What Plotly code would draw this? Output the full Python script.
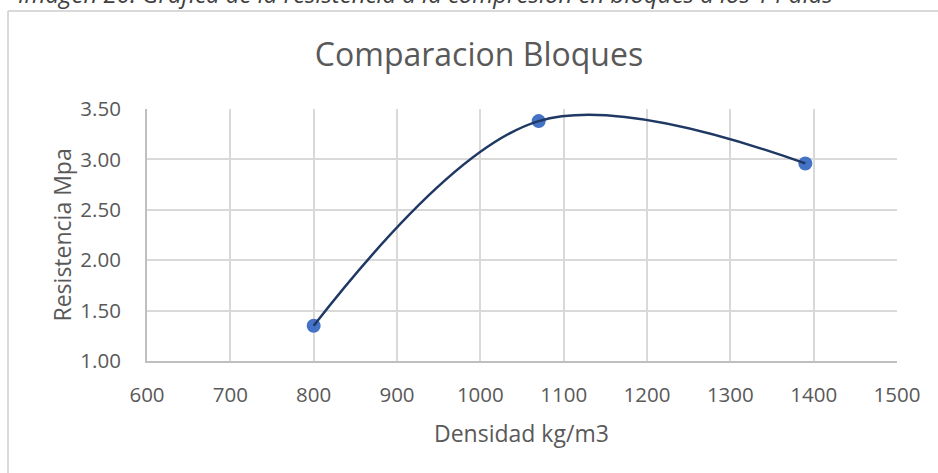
import plotly.graph_objects as go

# Data
densidad = [800, 1070, 1390]
resistencia = [1.35, 3.38, 2.96]
x_ticks = [600, 700, 800, 900, 1000, 1100, 1200, 1300, 1400, 1500]
y_ticks = [1.00, 1.50, 2.00, 2.50, 3.00, 3.50]

title_text = "Comparacion Bloques"
x_title = "Densidad kg/m3"
y_title = "Resistencia Mpa"
caption = "Imagen 20. Gráfica de la resistencia a la compresión en bloques a los 14 días"

W, H = 938, 473
L, R, T, B = 147, 897, 109, 361  # plot area pixel edges

def px(xp):
    return (xp - L) / (R - L)

def py(yp):
    return (B - yp) / (B - T)

FONT = "Open Sans"
GRAY = "#595959"
GRID = "#d9d9d9"

fig = go.Figure()
fig.add_trace(go.Scatter(
    x=densidad, y=resistencia, mode="markers",
    marker=dict(color="#4472C4", size=14, line=dict(width=0)),
    showlegend=False, hoverinfo="skip",
))
fig.add_trace(go.Scatter(
    x=densidad, y=resistencia, mode="lines",
    line=dict(color="#1F3864", width=2.5, shape="spline", smoothing=1.0),
    showlegend=False,
))

fig.update_layout(
    width=W, height=H,
    margin=dict(l=L, r=W - R, t=T, b=H - B, pad=0),
    paper_bgcolor="white", plot_bgcolor="white",
    font=dict(family=FONT, color=GRAY, size=20),
    title=dict(text=title_text, x=479 / W, xref="container", xanchor="center",
               y=1 - 55 / H, yref="container", yanchor="middle",
               font=dict(family=FONT, size=32, color=GRAY)),
    xaxis=dict(range=[600, 1500], tickvals=x_ticks, ticktext=[str(v) for v in x_ticks],
               showgrid=True, gridcolor=GRID, gridwidth=2,
               showline=True, linecolor="#bfbfbf", linewidth=2, mirror=False,
               zeroline=False, ticks="", ticklabelstandoff=14,
               tickfont=dict(family=FONT, size=20.5, color=GRAY), fixedrange=True),
    yaxis=dict(range=[1.0, 3.5], tickvals=y_ticks, ticktext=[f"{v:.2f}" for v in y_ticks],
               showgrid=True, gridcolor=GRID, gridwidth=2,
               showline=True, linecolor="#bfbfbf", linewidth=2,
               zeroline=False, ticks="", ticklabelstandoff=20,
               tickfont=dict(family=FONT, size=20.5, color=GRAY), fixedrange=True),
    shapes=[
        dict(type="line", xref="paper", yref="paper", x0=px(8), x1=px(W + 5), y0=py(11), y1=py(11),
             line=dict(color=GRID, width=2), layer="below"),
        dict(type="line", xref="paper", yref="paper", x0=px(8), x1=px(8), y0=py(11), y1=py(H + 5),
             line=dict(color=GRID, width=2), layer="below"),
    ],
    annotations=[
        dict(text=x_title, xref="paper", yref="paper", x=px(521), y=py(433),
             xanchor="center", yanchor="middle", showarrow=False,
             font=dict(family=FONT, size=23, color=GRAY)),
        dict(text=y_title, xref="paper", yref="paper", x=px(61), y=py(235.5),
             xanchor="center", yanchor="middle", showarrow=False, textangle=-90,
             font=dict(family=FONT, size=23, color=GRAY)),
        dict(text="<i>" + caption + "</i>", xref="paper", yref="paper", x=px(16), y=py(-7),
             xanchor="left", yanchor="middle", showarrow=False,
             font=dict(family=FONT, size=24, color="#404040")),
    ],
)

fig.write_html("out.html")
